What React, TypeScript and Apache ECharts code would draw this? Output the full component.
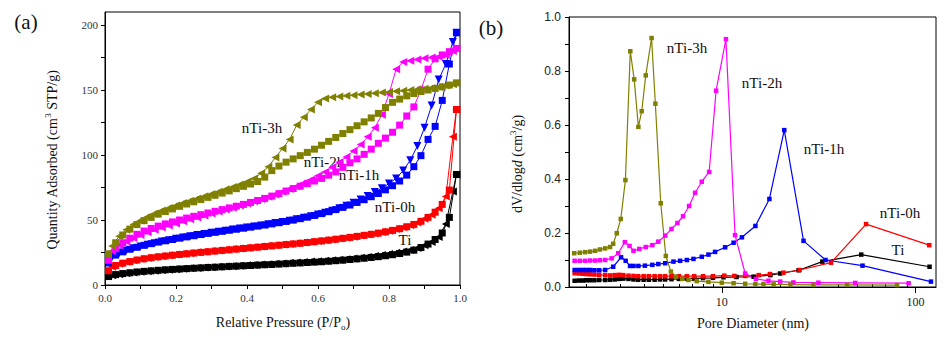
import React, { useEffect, useRef } from 'react';
import * as echarts from 'echarts';

// ---------- Panel (a): N2 isotherms ----------
const P_ADS = [0.01,0.03,0.05,0.07,0.09,0.11,0.13,0.15,0.17,0.19,0.21,0.23,0.25,0.27,0.29,0.31,0.33,0.35,0.37,0.39,0.41,0.43,0.45,0.47,0.49,0.51,0.53,0.55,0.57,0.59,0.61,0.63,0.65,0.67,0.69,0.71,0.73,0.75,0.77,0.79,0.81,0.83,0.85,0.87,0.89,0.91,0.93,0.95,0.97,0.99];
const P_DES = [0.99,0.98,0.96,0.94,0.92,0.90,0.88,0.86,0.84,0.82,0.80,0.78,0.76,0.74,0.72,0.70,0.68,0.66,0.64,0.62,0.60,0.58,0.56,0.54,0.52,0.50,0.48,0.46,0.44,0.42,0.40,0.38,0.36,0.34,0.32,0.30,0.28,0.26,0.24,0.22,0.20,0.18,0.16,0.14,0.12,0.10,0.08,0.06,0.04,0.02];

const TI_ADS = [6.5,8,8.8,9.4,10,10.5,10.9,11.3,11.7,12,12.3,12.6,12.9,13.2,13.5,13.7,14,14.3,14.5,14.8,15,15.3,15.6,15.8,16.1,16.4,16.7,17,17.3,17.6,17.9,18.3,18.7,19.1,19.6,20.1,20.6,21.2,21.8,22.5,23.3,24.2,25.3,26.8,28.8,31.5,35,40,52,85];
const TI_DES = [85,72,47,37,33,30.5,28.5,27,25.8,24.8,23.8,23,22.3,21.6,21,20.4,19.9,19.4,19,18.6,18.3,18,17.7,17.4,17.1,16.6,16.3,16,15.7,15.4,15.1,14.8,14.5,14.2,14,13.7,13.4,13.1,12.8,12.5,12.2,11.8,11.4,11,10.6,10.1,9.6,9,8.3,7.5];

const H0_ADS = [11,15,16.8,18,19.2,20.2,21,21.7,22.3,22.9,23.5,24,24.6,25.1,25.6,26.1,26.6,27.1,27.6,28.1,28.6,29.1,29.6,30.1,30.6,31.1,31.6,32.1,32.7,33.3,33.9,34.5,35.2,35.9,36.6,37.4,38.2,39,39.9,40.9,42,43.3,44.8,46.6,49,52,56,62,73,135];
const H0_DES = [135,114,68,59,54,51,48,46,44.5,43,41.8,40.7,39.7,38.8,38,37.2,36.4,35.7,35,34.4,33.8,33.2,32.6,32.1,31.6,31.1,30.6,30.1,29.6,29.1,28.6,28.1,27.6,27.1,26.6,26.1,25.6,25.1,24.5,24,23.4,22.8,22.2,21.5,20.8,20,19,17.8,16.3,14];

const H1_ADS = [17,23,25.5,27.5,29,30.5,31.8,33,34,35,36,37,37.9,38.8,39.7,40.5,41.3,42.1,42.9,43.7,44.5,45.3,46.1,47,47.9,48.9,49.9,51,52.2,53.5,54.9,56.4,58,59.7,61.5,63.5,65.6,67.9,70.4,73.2,76.4,80,84.5,91,99.5,112,122,142,170,194];
const H1_DES = [194,187,170,158,138,121,107,96,88,82,78,74.5,71.5,68.5,65.8,63.3,61,59,57.2,55.6,54.2,52.9,51.7,50.6,49.5,48.5,47.6,46.7,45.8,45,44.2,43.4,42.6,41.8,41,40.2,39.3,38.4,37.5,36.5,35.5,34.5,33.4,32.2,31,29.7,28.2,26.5,24.5,21.5];

const H2_ADS = [19,28,32.5,36,39,41.5,43.5,45.3,47,48.5,50,51.5,52.8,54.1,55.4,56.7,58,59.3,60.6,62,63.5,65,66.6,68.4,70.3,72.3,74.2,76,78,80,82,84.5,87,90.5,94,97,100.5,104.5,109,113,117.5,123,130,137,150,166,174,177,179.5,182];
const H2_DES = [182,180,177,175.5,175,174.5,173.5,172.5,171.5,166,147,131,121,114,108,103,98.5,94.5,90.5,87,84,81,78.5,76,73.8,71.7,69.7,67.9,66.1,64.4,62.7,61.1,59.5,58,56.5,55,53.5,52,50.5,49,47.4,45.8,44.2,42.5,40.5,38.5,36.2,33.5,30.5,26];

const H3_ADS = [24,32.5,38.5,43,46.5,49.5,52,54.5,56.5,58.5,60.5,62.3,64,65.7,67.4,69,70.7,72.4,74.1,75.9,77.7,79.6,83,88,91.5,94.5,97,99.5,102,104.5,107.5,110.5,113.5,116.5,119.5,122.5,125.5,128.5,132,136.5,140.5,143,145.5,147.3,148.8,150,151.2,152.4,153.8,155.5];
const H3_DES = [155.5,154.5,153.5,152.5,151.5,151,150.5,150,149.5,149,148.5,148,147.5,147,146.5,146,145.5,145,144.5,143.5,140.5,135,129,123,112,105,98,91,86,82,79.5,77.3,75.4,73.6,71.8,70,68.3,66.6,64.8,63,61.2,59.3,57.3,55,52.5,49.7,46.5,42.5,37.5,30];

const A_X_TICKS = [0,0.1,0.2,0.3,0.4,0.5,0.6,0.7,0.8,0.9,1.0];
const A_X_LABELS = [0,0.2,0.4,0.6,0.8,1.0];
const A_Y_TICKS = [0,25,50,75,100,125,150,175,200];
const A_Y_LABELS = [0,50,100,150,200];

// ---------- Panel (b): pore size distribution ----------
const D_TI = [1.74,1.83,1.92,2.0,2.09,2.2,2.33,2.5,2.65,2.8,2.95,3.1,3.3,3.5,3.7,3.95,4.2,4.5,4.8,5.1,5.5,6.0,6.6,7.2,8.0,9.0,10.2,11.9,14.6,17.8,20.0,24.9,33.0,52.4,118];
const V_TI = [0.023,0.024,0.024,0.025,0.025,0.025,0.026,0.026,0.027,0.028,0.03,0.031,0.03,0.028,0.027,0.027,0.027,0.027,0.028,0.028,0.029,0.03,0.031,0.032,0.033,0.034,0.036,0.037,0.038,0.044,0.05,0.062,0.094,0.12,0.075];

const D_0H = [1.74,1.83,1.92,2.0,2.09,2.2,2.33,2.5,2.65,2.8,2.95,3.1,3.3,3.5,3.7,3.95,4.2,4.5,4.8,5.1,5.5,6.0,6.6,7.2,8.0,9.0,10.3,11.6,13.2,15.5,17.7,20.8,25.2,36.6,55.5,117.6];
const V_0H = [0.051,0.05,0.049,0.048,0.047,0.046,0.045,0.044,0.043,0.044,0.045,0.044,0.042,0.041,0.04,0.04,0.04,0.04,0.04,0.04,0.04,0.04,0.04,0.04,0.04,0.04,0.042,0.041,0.041,0.044,0.048,0.053,0.063,0.09,0.233,0.155];

const D_1H = [1.74,1.83,1.92,2.0,2.09,2.2,2.33,2.5,2.75,3.02,3.19,3.36,3.5,3.71,4.01,4.38,4.70,5.10,5.63,6.09,6.60,7.14,7.88,8.53,9.23,10.4,11.5,12.7,14.9,17.6,21.0,26.4,34.3,53.2,120];
const V_1H = [0.063,0.063,0.063,0.063,0.063,0.062,0.062,0.063,0.075,0.11,0.097,0.078,0.078,0.078,0.079,0.082,0.085,0.088,0.094,0.097,0.1,0.104,0.112,0.12,0.13,0.147,0.164,0.184,0.226,0.326,0.581,0.171,0.1,0.079,0.02];

const D_2H = [1.74,1.85,1.97,2.09,2.22,2.35,2.50,2.70,2.92,3.16,3.34,3.50,3.75,4.05,4.38,4.70,5.10,5.50,5.90,6.31,6.78,7.28,7.88,8.60,9.34,10.5,11.7,13.2,15.0,17.4,20.0,23.4,31.5,48.8,92];
const V_2H = [0.097,0.097,0.097,0.098,0.098,0.099,0.100,0.106,0.125,0.166,0.152,0.134,0.141,0.148,0.155,0.168,0.19,0.215,0.237,0.262,0.30,0.349,0.39,0.426,0.727,0.918,0.192,0.05,0.03,0.023,0.02,0.017,0.016,0.015,0.014];

const D_3H = [1.73,1.85,1.97,2.09,2.22,2.35,2.50,2.65,2.75,2.87,3.01,3.18,3.37,3.53,3.71,3.86,4.05,4.34,4.54,4.84,5.14,5.46,5.80,6.25,6.72,7.43,8.53,10,11.5,13.2,14.9,16.4,18.5,22.6,29.7,44.3,80.2];
const V_3H = [0.125,0.127,0.129,0.131,0.134,0.139,0.143,0.148,0.16,0.199,0.252,0.396,0.873,0.769,0.593,0.651,0.784,0.922,0.679,0.31,0.115,0.057,0.038,0.03,0.026,0.022,0.019,0.016,0.014,0.012,0.011,0.011,0.01,0.009,0.008,0.008,0.007];

const B_X_MIN = 1.627; // nm
const B_X_MAX = 127.4; // nm
const B_X_MAJOR = [10, 100];
const B_X_MINOR = [2,3,4,5,6,7,8,9,20,30,40,50,60,70,80,90];
const B_Y_TICKS = [0,0.1,0.2,0.3,0.4,0.5,0.6,0.7,0.8,0.9,1.0];
const B_Y_LABELS = [0,0.2,0.4,0.6,0.8,1.0];

const SAMPLES = ['Ti', 'nTi-0h', 'nTi-1h', 'nTi-2h', 'nTi-3h'];
const COLORS = ['#000000', '#ff0000', '#0000ff', '#ff00ff', '#808000'];

const SERIF = 'Liberation Serif';
const SANS = 'Liberation Sans';

const pairs = (xs: number[], ys: number[]) => xs.map((x, i) => [x, ys[i]]);
const logPairs = (xs: number[], ys: number[]) => xs.map((x, i) => [Math.log10(x), ys[i]]);

function buildOption() {
  const ads = [TI_ADS, H0_ADS, H1_ADS, H2_ADS, H3_ADS];
  const des = [TI_DES, H0_DES, H1_DES, H2_DES, H3_DES];
  const pD = [D_TI, D_0H, D_1H, D_2H, D_3H];
  const pV = [V_TI, V_0H, V_1H, V_2H, V_3H];
  const series: any[] = [];
  SAMPLES.forEach((name, i) => {
    series.push({
      name: name + ' adsorption', type: 'line', xAxisIndex: 0, yAxisIndex: 0,
      data: pairs(P_ADS, ads[i]), symbol: 'rect', symbolSize: 7,
      lineStyle: { color: COLORS[i], width: 1 }, itemStyle: { color: COLORS[i] },
    });
    series.push({
      name: name + ' desorption', type: 'line', xAxisIndex: 0, yAxisIndex: 0,
      data: pairs(P_DES, des[i]), symbol: 'triangle', symbolSize: 8,
      symbolRotate: i === 2 ? 180 : 90,
      lineStyle: { color: COLORS[i], width: 1 }, itemStyle: { color: COLORS[i] },
    });
  });
  SAMPLES.forEach((name, i) => {
    series.push({
      name: name + ' PSD', type: 'line', xAxisIndex: 1, yAxisIndex: 1,
      data: logPairs(pD[i], pV[i]), symbol: 'rect', symbolSize: 4.5,
      lineStyle: { color: COLORS[i], width: 1.2 }, itemStyle: { color: COLORS[i] },
    });
  });

  const axisLine = { show: true, onZero: false, lineStyle: { color: '#000', width: 1 } };
  const txt = (x: number, y: number, text: string, size: number) => ({
    type: 'text', x, y,
    style: { text, fontSize: size, fontFamily: SERIF, fill: '#111', align: 'center', verticalAlign: 'middle', textAlign: 'center', textVerticalAlign: 'middle' },
  });

  return {
    animation: false,
    backgroundColor: '#ffffff',
    textStyle: { fontFamily: SERIF },
    grid: [
      { left: 105, top: 12, width: 355, height: 273, show: true, borderColor: '#000', borderWidth: 1, backgroundColor: 'transparent' },
      { left: 569, top: 17, width: 367, height: 270, show: true, borderColor: '#000', borderWidth: 1, backgroundColor: 'transparent' },
    ],
    xAxis: [
      {
        gridIndex: 0, type: 'value', min: 0, max: 1, axisLine, splitLine: { show: false },
        axisTick: { show: true, length: 4, customValues: A_X_TICKS, lineStyle: { color: '#000' } },
        axisLabel: { customValues: A_X_LABELS, formatter: (v: number) => v.toFixed(1), fontFamily: SERIF, fontSize: 11, color: '#333', margin: 7 },
      },
      {
        gridIndex: 1, type: 'value', min: Math.log10(B_X_MIN), max: Math.log10(B_X_MAX), axisLine, splitLine: { show: false },
        axisTick: { show: true, length: 6, customValues: B_X_MAJOR.map(Math.log10), lineStyle: { color: '#000' } },
        axisLabel: { customValues: B_X_MAJOR.map(Math.log10), formatter: (v: number) => String(Math.round(Math.pow(10, v))), fontFamily: SERIF, fontSize: 12, color: '#222', margin: 9 },
      },
      {
        gridIndex: 1, type: 'value', min: Math.log10(B_X_MIN), max: Math.log10(B_X_MAX), axisLine: { show: false }, splitLine: { show: false },
        axisTick: { show: true, length: 3, customValues: B_X_MINOR.map(Math.log10), lineStyle: { color: '#000' } },
        axisLabel: { show: false },
      },
    ],
    yAxis: [
      {
        gridIndex: 0, type: 'value', min: 0, max: 210, axisLine, splitLine: { show: false },
        axisTick: { show: true, length: 4, customValues: A_Y_TICKS, lineStyle: { color: '#000' } },
        axisLabel: { customValues: A_Y_LABELS, fontFamily: SERIF, fontSize: 11, color: '#333', margin: 7 },
      },
      {
        gridIndex: 1, type: 'value', min: 0, max: 1, axisLine, splitLine: { show: false },
        axisTick: { show: true, length: 4, customValues: B_Y_TICKS, lineStyle: { color: '#000' } },
        axisLabel: { customValues: B_Y_LABELS, formatter: (v: number) => v.toFixed(1), fontFamily: SANS, fontSize: 12, color: '#222', margin: 8 },
      },
    ],
    series,
    graphic: [
      txt(26, 22, '(a)', 21),
      txt(491, 28, '(b)', 21),
      {
        type: 'text', x: 52, y: 160, rotation: Math.PI / 2,
        style: {
          text: '{n|Quantity Adsorbed (cm}{s|3}{n| STP/g)}', fontFamily: SERIF, align: 'center', verticalAlign: 'middle', textAlign: 'center', textVerticalAlign: 'middle',
          rich: { n: { fontSize: 14, fontFamily: SERIF, fill: '#111', lineHeight: 18 }, s: { fontSize: 9, fontFamily: SERIF, fill: '#111', verticalAlign: 'top', lineHeight: 18 } },
        },
      },
      {
        type: 'text', x: 283, y: 322,
        style: {
          text: '{n|Relative Pressure (P/P}{s|o}{n|)}', fontFamily: SERIF, align: 'center', verticalAlign: 'middle', textAlign: 'center', textVerticalAlign: 'middle',
          rich: { n: { fontSize: 14, fontFamily: SERIF, fill: '#111', lineHeight: 18 }, s: { fontSize: 9, fontFamily: SERIF, fill: '#111', verticalAlign: 'bottom', lineHeight: 18 } },
        },
      },
      {
        type: 'text', x: 517, y: 164, rotation: Math.PI / 2,
        style: {
          text: '{n|dV/dlog}{i|d}{n| (cm}{s|3}{n|/g)}', fontFamily: SERIF, align: 'center', verticalAlign: 'middle', textAlign: 'center', textVerticalAlign: 'middle',
          rich: {
            n: { fontSize: 14, fontFamily: SERIF, fill: '#111', lineHeight: 18 },
            i: { fontSize: 14, fontFamily: SERIF, fontStyle: 'italic', fill: '#111', lineHeight: 18 },
            s: { fontSize: 9, fontFamily: SERIF, fill: '#111', verticalAlign: 'top', lineHeight: 18 },
          },
        },
      },
      txt(753, 323, 'Pore Diameter (nm)', 14),
      txt(262, 128, 'nTi-3h', 15),
      txt(324, 162, 'nTi-2h', 15),
      txt(359, 175, 'nTi-1h', 15),
      txt(395, 207, 'nTi-0h', 15),
      txt(405, 240, 'Ti', 15),
      txt(687, 48, 'nTi-3h', 15),
      txt(762, 83, 'nTi-2h', 15),
      txt(824, 149, 'nTi-1h', 15),
      txt(900, 213, 'nTi-0h', 15),
      txt(898, 250, 'Ti', 15),
    ],
  };
}

export default function App() {
  const ref = useRef<HTMLDivElement>(null);
  useEffect(() => {
    if (!ref.current) return;
    const chart = echarts.init(ref.current, null, { renderer: 'svg' });
    chart.setOption(buildOption() as any);
    return () => chart.dispose();
  }, []);
  return (
    <div
      ref={ref}
      style={{ position: 'absolute', left: 0, top: 0, width: 952, height: 341, background: '#ffffff' }}
    />
  );
}
